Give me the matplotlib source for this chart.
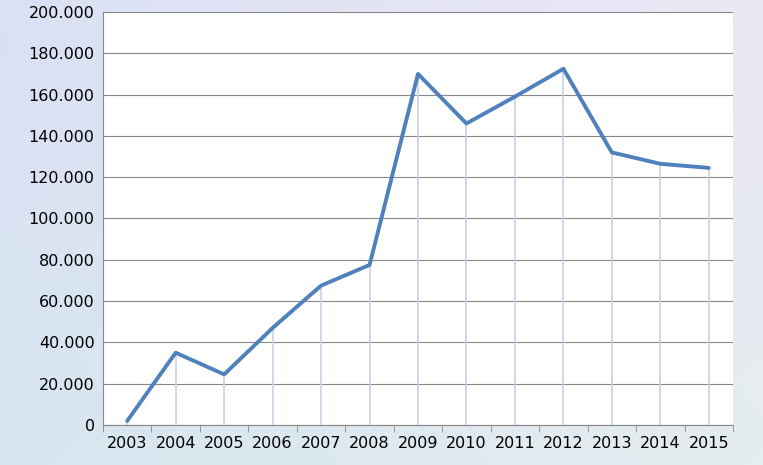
import matplotlib.pyplot as plt
import numpy as np
from matplotlib.ticker import FuncFormatter

years = ["2003", "2004", "2005", "2006", "2007", "2008", "2009",
         "2010", "2011", "2012", "2013", "2014", "2015"]
values = [2000, 35000, 24500, 47000, 67500, 77500, 170000,
          146000, 159000, 172500, 132000, 126500, 124500]

fig = plt.figure(figsize=(7.63, 4.65), dpi=100)

# soft bluish background
bg = fig.add_axes([0, 0, 1, 1])
gx, gy = np.meshgrid(np.linspace(0, 1, 200), np.linspace(0, 1, 200))
r = 0.86 + 0.06 * gx - 0.02 * gy
g = 0.88 + 0.03 * gx + 0.02 * gy
b = 0.96 - 0.02 * gy
bg.imshow(np.dstack([r, g, b]).clip(0, 1), aspect="auto", extent=[0, 1, 0, 1])
bg.axis("off")

ax = fig.add_axes([103 / 763, 40 / 465, 630 / 763, 413 / 465])
ax.set_facecolor("white")
x = np.arange(len(years))
ax.vlines(x, 0, values, color="#c5d3e8", lw=1.2)
ax.plot(x, values, color="#4f81bd", lw=2.8, solid_capstyle="round")

ax.set_xlim(-0.5, len(years) - 0.5)
ax.set_ylim(0, 200000)
ax.set_yticks(np.arange(0, 200001, 20000))
ax.yaxis.set_major_formatter(FuncFormatter(lambda v, p: "0" if v == 0 else f"{int(v):,}".replace(",", ".")))
ax.set_xticks(x)
ax.set_xticklabels(years)
ax.set_xticks(np.arange(-0.5, len(years), 1), minor=True)
ax.tick_params(axis="x", which="major", length=0, labelsize=11.5, pad=8)
ax.tick_params(axis="x", which="minor", length=5, color="#888888")
ax.tick_params(axis="y", length=0, labelsize=11.5, pad=6)
ax.grid(axis="y", color="#888888", lw=0.8)
ax.set_axisbelow(True)
for s in ["top", "right"]:
    ax.spines[s].set_visible(False)
ax.spines["left"].set_color("#888888")
ax.spines["bottom"].set_color("#888888")

fig.savefig("out.png", dpi=100)
